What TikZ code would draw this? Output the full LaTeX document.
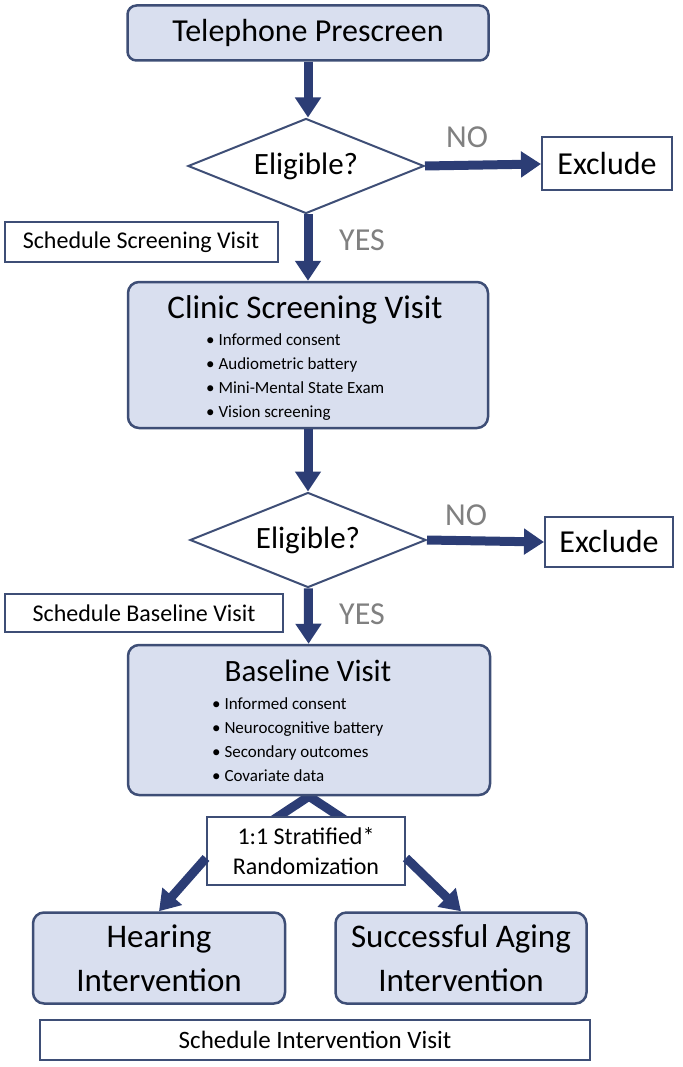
\documentclass[tikz,border=0pt]{standalone}
\usepackage{fontspec}
\setmainfont{Carlito}
\usetikzlibrary{shapes.geometric,arrows.meta,backgrounds}
\definecolor{boxfill}{RGB}{217,223,239}
\definecolor{boxline}{RGB}{62,78,118}
\definecolor{arrowblue}{RGB}{44,61,117}
\definecolor{labelgrey}{RGB}{128,128,128}
\newcommand{\fsz}[2]{\fontsize{#1}{#2}\selectfont}
\begin{document}
\begin{tikzpicture}[x=1pt,y=-1pt,
    stage/.style={draw=boxline,line width=2.5pt,fill=boxfill,rounded corners=11pt,inner sep=0pt,align=center},
    note/.style={draw=boxline,line width=2pt,fill=white,inner sep=0pt,align=center,font=\fsz{24}{28}},
    decision/.style={diamond,aspect=2.48,draw=boxline,line width=2pt,fill=white,inner sep=0pt,
        minimum width=236pt,minimum height=95pt,font=\fsz{31}{34}},
    flow/.style={draw=arrowblue,line width=9pt,-{Triangle[width=25pt,length=20pt]}},
    answer/.style={text=labelgrey,font=\fsz{32}{34}},
    items/.style={align=left,anchor=west,inner sep=0pt,font=\fsz{17}{24}}]
    \useasboundingbox (0,0) rectangle (682,1067);
    % main column
    \node[stage,minimum width=361pt,minimum height=55pt,rounded corners=9pt,font=\fsz{32}{34}] (phone) at (308,33) {Telephone Prescreen};
    \node[decision] (elig1) at (306,166) {Eligible?};
    \node[draw=boxline,line width=2pt,minimum width=130pt,minimum height=53pt,font=\fsz{32}{34}] (excl1) at (607,164) {Exclude};
    \node[note,minimum width=273pt,minimum height=40pt] (sched1) at (141,242) {Schedule Screening Visit};
    \node[answer] (no1) at (467,137) {NO};
    \node[answer] (yes1) at (362,240) {YES};
    \node[stage,minimum width=360pt,minimum height=146pt] (clinic) at (308,355) {};
    \node[font=\fsz{33}{36}] (clinict) at (305,310) {Clinic Screening Visit};
    \node[items] (clinicl) at (206,377) {• Informed consent\\• Audiometric battery\\• Mini-Mental State Exam\\• Vision screening};
    \node[decision] (elig2) at (308,540) {Eligible?};
    \node[draw=boxline,line width=2pt,minimum width=128pt,minimum height=50pt,font=\fsz{32}{34}] (excl2) at (609,542) {Exclude};
    \node[note,minimum width=278pt,minimum height=38pt] (sched2) at (144,613) {Schedule Baseline Visit};
    \node[answer] (no2) at (466,515) {NO};
    \node[answer] (yes2) at (362,614) {YES};
    \node[stage,minimum width=362pt,minimum height=150pt] (base) at (309,720) {};
    \node[font=\fsz{31}{34}] (baset) at (308,671) {Baseline Visit};
    \node[items] (basel) at (212,740) {• Informed consent\\• Neurocognitive battery\\• Secondary outcomes\\• Covariate data};
    % randomization
    \node[note,minimum width=198pt,minimum height=68pt,font=\fsz{24}{30}] (rand) at (306,851) {1:1 Stratified*\\Randomization};
    \node[stage,minimum width=252pt,minimum height=91pt,font=\fsz{33}{44}] (hear) at (159,958) {Hearing\\Intervention};
    \node[stage,minimum width=251pt,minimum height=91pt,font=\fsz{33}{44}] (aging) at (461,958) {Successful Aging\\Intervention};
    \node[note,minimum width=550pt,minimum height=40pt,font=\fsz{25}{28}] (sched3) at (315,1040) {Schedule Intervention Visit};
    % connectors
    \draw[flow] (phone) -- (phone |- elig1.north);
    \draw[flow] (elig1.east) -- (excl1.west);
    \draw[flow] (phone |- elig1.south) -- (clinic);
    \draw[flow] (clinic) -- (elig2);
    \draw[flow] (elig2.east) -- (excl2.west);
    \draw[flow] (elig2) -- (base);
    \coordinate (split) at (base.south);
    \begin{scope}[on background layer]
        \draw[arrowblue,line width=9pt] (270,822) -- (split) -- (348,822);
    \end{scope}
    \draw[flow] (rand.west |- 0,858) -- (hear.north);
    \draw[flow] (rand.east |- 0,858) -- (aging.north);
\end{tikzpicture}
\end{document}
